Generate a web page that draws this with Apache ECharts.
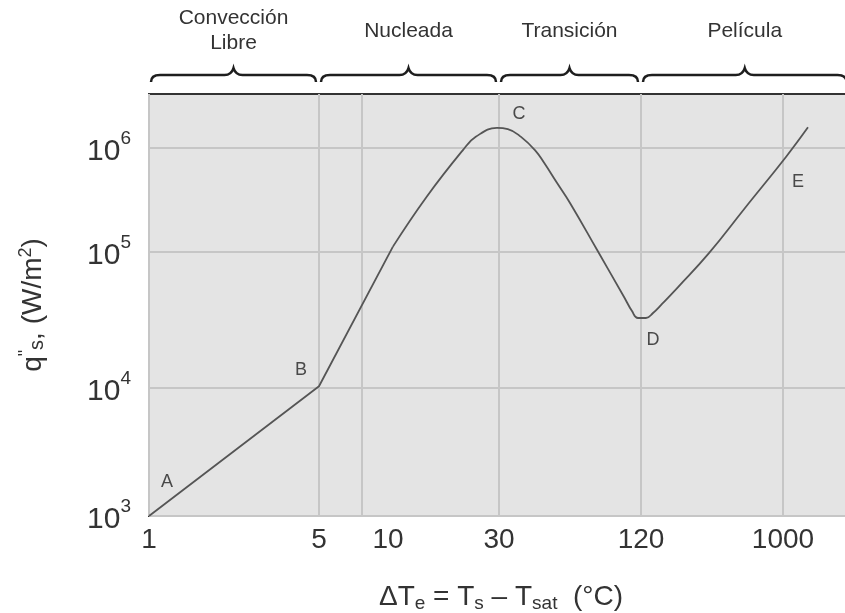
<!DOCTYPE html>
<html>
<head>
<meta charset="utf-8">
<script src="https://cdn.jsdelivr.net/npm/echarts@6/dist/echarts.min.js"></script>
<style>
  html, body { margin: 0; padding: 0; background: #ffffff; }
  #chart { width: 845px; height: 613px; }
</style>
</head>
<body>
<div id="chart"></div>
<script>
// Boiling curve of water: surface heat flux q"s against excess temperature ΔTe.

// Curve samples (ΔTe in °C, q"s in W/m²); the first segments from A are straight runs.
const deltaT   = [1, 5, 12.8, 16.8, 22.5, 24.9, 29.5, 32.7, 37.2, 42.7, 46.6, 52.9, 60, 78.1, 101.7, 109.9, 116.4, 129.2, 143.6, 164.3, 208, 331, 567, 1045, 1452];
const heatFlux = [1e3, 1.03e4, 1.12e5, 3.4e5, 9.6e5, 1.28e6, 1.56e6, 1.52e6, 1.28e6, 9.5e5, 7.2e5, 4.6e5, 2.96e5, 1.05e5, 4.67e4, 3.68e4, 3.27e4, 3.27e4, 3.56e4, 4.15e4, 5.5e4, 9.8e4, 2.65e5, 8.2e5, 1.58e6];
const straightUntil = 2; // A–B and B–(10^5 bend) are straight runs

// Named points on the curve
const pointNames  = ['A', 'B', 'C', 'D', 'E'];
const pointDeltaT = [1, 5, 29.5, 122, 1000];
const pointFlux   = [1e3, 1.03e4, 1.56e6, 3.27e4, 7.5e5];

// Tick labels
const xTickValues    = [1, 5, 10, 30, 120, 1000];
const yTickExponents = [3, 4, 5, 6];

// Boiling regimes and their ΔTe bounds
const regionNames  = ['Convección\nLibre', 'Nucleada', 'Transición', 'Película'];
const regionBounds = [1, 5, 30, 120, 2700];

// Schematic (non-uniform) logarithmic scales: value -> axis unit
const xScaleStops = [[1, 0], [5, 170], [10, 213], [30, 350], [120, 492], [1000, 634]];
const yScaleStops = [[1e3, 0], [1e4, 128], [1e5, 264], [1e6, 368]];
const X_UNITS = 704, Y_UNITS = 422;

function makeWarp(stops) {
  const L = stops.map(s => [Math.log10(s[0]), s[1]]);
  return v => {
    const lv = Math.log10(v);
    let i = 0;
    while (i < L.length - 2 && lv > L[i + 1][0]) i++;
    const [a0, u0] = L[i], [a1, u1] = L[i + 1];
    return u0 + (lv - a0) * (u1 - u0) / (a1 - a0);
  };
}
const xWarp = makeWarp(xScaleStops);
const yWarp = makeWarp(yScaleStops);

const FONT = "'Liberation Sans', Arial, sans-serif";
const xTickUnits = xTickValues.map(xWarp);
const yTickUnits = yTickExponents.map(e => yWarp(Math.pow(10, e)));
const nearestIndex = (arr, u) => {
  let best = 0;
  arr.forEach((a, i) => { if (Math.abs(a - u) < Math.abs(arr[best] - u)) best = i; });
  return best;
};

const curve = deltaT.map((t, i) => [xWarp(t), yWarp(heatFlux[i])]);
const labelOffsets = { A: [18, -34], B: [-18, -16], C: [22, -14], D: [11, 22], E: [15, 21] };
const lineStyle = { color: '#555555', width: 1.8 };

const chart = echarts.init(document.getElementById('chart'), null, { renderer: 'canvas' });
chart.setOption({
  animation: false,
  backgroundColor: '#ffffff',
  grid: {
    left: 149, top: 94, width: X_UNITS, height: Y_UNITS,
    outerBoundsMode: 'none', containLabel: false,
    show: true, backgroundColor: '#e4e4e4', borderColor: '#333333', borderWidth: 2
  },
  xAxis: {
    type: 'value', min: 0, max: X_UNITS,
    axisLine: { show: false },
    axisTick: { show: false, customValues: xTickUnits },
    splitLine: { show: true, lineStyle: { color: '#c6c6c6', width: 2 } },
    axisLabel: {
      customValues: xTickUnits, margin: 10, color: '#333', fontFamily: FONT, fontSize: 28,
      formatter: u => {
        const v = xTickValues[nearestIndex(xTickUnits, u)];
        return v === 10 ? '{p|' + v + '}' : String(v);
      },
      rich: { p: { padding: [0, 0, 0, 52], fontSize: 28, fontFamily: FONT, color: '#333' } }
    },
    name: 'ΔT{s|e} = T{s|s} – T{s|sat}  (°C)',
    nameLocation: 'middle', nameGap: 66,
    nameTextStyle: {
      fontFamily: FONT, fontSize: 28, color: '#333',
      rich: { s: { fontFamily: FONT, fontSize: 19, color: '#333', verticalAlign: 'bottom', padding: [12, 0, 0, 0] } }
    }
  },
  yAxis: {
    type: 'value', min: 0, max: Y_UNITS,
    axisLine: { show: false },
    axisTick: { show: false, customValues: yTickUnits },
    splitLine: { show: true, lineStyle: { color: '#c6c6c6', width: 2 } },
    axisLabel: {
      customValues: yTickUnits, margin: 18, fontFamily: FONT, fontSize: 30, color: '#333',
      formatter: u => '{a|10}{e|' + yTickExponents[nearestIndex(yTickUnits, u)] + '}',
      rich: {
        a: { fontFamily: FONT, fontSize: 30, color: '#333', padding: [8, 0, 0, 0] },
        e: { fontFamily: FONT, fontSize: 19, color: '#333', verticalAlign: 'top', padding: [0, 0, 10, 0] }
      }
    },
    name: 'q{u|"}{d|s}, (W/m{u|2})',
    nameLocation: 'middle', nameRotate: 90, nameGap: 100,
    nameTextStyle: {
      fontFamily: FONT, fontSize: 28, color: '#333',
      rich: {
        u: { fontFamily: FONT, fontSize: 18, color: '#333', padding: [0, 0, 14, 0] },
        d: { fontFamily: FONT, fontSize: 20, color: '#333', padding: [8, 0, 0, 0] }
      }
    }
  },
  series: [
    {
      type: 'line', symbol: 'none', silent: true,
      data: curve.slice(0, straightUntil + 1),
      lineStyle: lineStyle
    },
    {
      type: 'line', symbol: 'none', silent: true, smooth: 0.45,
      data: curve.slice(straightUntil),
      lineStyle: lineStyle
    },
    {
      type: 'scatter', symbolSize: 0, silent: true,
      data: pointNames.map((n, i) => ({
        name: n,
        value: [xWarp(pointDeltaT[i]), yWarp(pointFlux[i])],
        label: { offset: labelOffsets[n] }
      })),
      label: {
        show: true, position: 'inside', formatter: '{b}',
        fontFamily: FONT, fontSize: 18, color: '#222'
      }
    },
    {
      type: 'custom', coordinateSystem: 'cartesian2d', silent: true, clip: false,
      data: regionNames.map((n, i) => [xWarp(regionBounds[i]), xWarp(regionBounds[i + 1]), 0]),
      encode: { x: [0, 1], y: 2 },
      renderItem: (params, api) => {
        const x0 = api.coord([api.value(0), 0])[0] + 2;
        const x1 = api.coord([api.value(1), 0])[0] - 3;
        const top = params.coordSys.y;
        const yb = top - 19;
        const cx = (x0 + x1) / 2;
        const path = `M${x0} ${yb + 7} Q${x0} ${yb} ${x0 + 9} ${yb} L${cx - 9} ${yb} ` +
          `Q${cx - 2} ${yb} ${cx} ${yb - 7} Q${cx + 2} ${yb} ${cx + 9} ${yb} ` +
          `L${x1 - 9} ${yb} Q${x1} ${yb} ${x1} ${yb + 7}`;
        return {
          type: 'group',
          children: [
            { type: 'path', shape: { pathData: path },
              style: { fill: 'none', stroke: '#1e1e1e', lineWidth: 2.5 } },
            { type: 'text',
              style: { text: regionNames[params.dataIndex], x: cx, y: top - 63,
                       align: 'center', verticalAlign: 'middle', lineHeight: 25,
                       fontFamily: FONT, fontSize: 21, fill: '#333' } }
          ]
        };
      }
    }
  ]
});
</script>
</body>
</html>
